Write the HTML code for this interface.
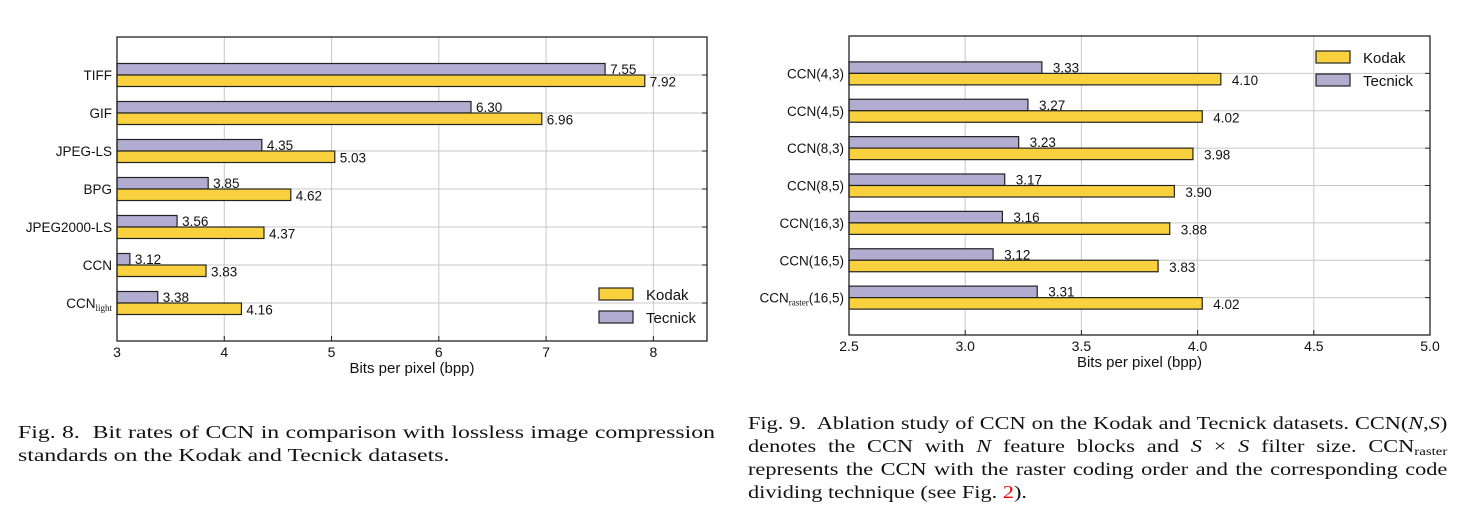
<!DOCTYPE html>
<html><head><meta charset="utf-8">
<style>
html,body{margin:0;padding:0;background:#fff;width:1477px;height:513px;overflow:hidden;position:relative}
svg{position:absolute;left:0;top:0}
.cap{position:absolute;font-family:"Liberation Serif",serif;font-size:18px;line-height:23px;color:#111;transform-origin:0 0}
.ln{display:block;text-align:justify;text-align-last:justify;white-space:nowrap}
.last{text-align-last:left}
sub{font-size:12px;vertical-align:-3px;line-height:0}
</style></head><body>
<svg id="chart" width="1477" height="513" xmlns="http://www.w3.org/2000/svg"></svg>
<div class="cap" style="left:18px;top:421px;width:528px;transform:scaleX(1.32)">
<span class="ln">Fig. 8.&nbsp; Bit rates of CCN in comparison with lossless image compression</span>
<span class="ln last">standards on the Kodak and Tecnick datasets.</span>
</div>
<div class="cap" style="left:748px;top:412px;width:564px;transform:scaleX(1.24)">
<span class="ln">Fig. 9.&nbsp; Ablation study of CCN on the Kodak and Tecnick datasets. CCN(<i>N</i>,<i>S</i>)</span>
<span class="ln">denotes the CCN with <i>N</i> feature blocks and <i>S</i> × <i>S</i> filter size. CCN<sub>raster</sub></span>
<span class="ln">represents the CCN with the raster coding order and the corresponding code</span>
<span class="ln last">dividing technique (see Fig. <span style="color:#e00">2</span>).</span>
</div>
<script>
const catsA = ["TIFF","GIF","JPEG-LS","BPG","JPEG2000-LS","CCN","CCN|light"];
const kodakA = [7.92,6.96,5.03,4.62,4.37,3.83,4.16];
const tecnickA = [7.55,6.30,4.35,3.85,3.56,3.12,3.38];
const ticksA = [3,4,5,6,7,8];
const catsB = ["CCN(4,3)","CCN(4,5)","CCN(8,3)","CCN(8,5)","CCN(16,3)","CCN(16,5)","CCN|raster|(16,5)"];
const kodakB = [4.10,4.02,3.98,3.90,3.88,3.83,4.02];
const tecnickB = [3.33,3.27,3.23,3.17,3.16,3.12,3.31];
const ticksB = [2.5,3.0,3.5,4.0,4.5,5.0];

const NS="http://www.w3.org/2000/svg";
const svg=document.getElementById('chart');
function mk(tag,attrs,parent){const e=document.createElementNS(NS,tag);for(const k in attrs)e.setAttribute(k,attrs[k]);(parent||svg).appendChild(e);return e;}
const KC="#f9d13e", TC="#b2acd0";
const FONT='"Liberation Sans",sans-serif';

function drawChart(o){
  const g=mk('g',{});
  
  
  const x=v=>o.x0+(v-o.xmin)/(o.xmax-o.xmin)*(o.x1-o.x0);
  const n=o.cats.length;
  const step=(o.y1-o.y0)/(n+1);
  const y=i=>o.y0+step*(i+1);
  o.ticks.forEach((t,i)=>{
    const l=mk('line',{x1:x(t),x2:x(t),y1:o.y0,y2:o.y1,stroke:'#c8c8c8','stroke-width':1},g);
    
    
    mk('line',{x1:x(t),x2:x(t),y1:o.y1,y2:o.y1-5,stroke:'#222','stroke-width':1},g);
    const tl=mk('text',{x:x(t),y:o.y1+16,'text-anchor':'middle','font-family':FONT,'font-size':14,fill:'#111'},g);
    tl.textContent=o.tickFmt(t);
    
    
  });
  o.cats.forEach((c,i)=>{
    const l=mk('line',{x1:o.x0,x2:o.x1,y1:y(i),y2:y(i),stroke:'#c8c8c8','stroke-width':1},g);
    
    
    mk('line',{x1:o.x0,x2:o.x0+5,y1:y(i),y2:y(i),stroke:'#222'},g);
    mk('line',{x1:o.x1,x2:o.x1-5,y1:y(i),y2:y(i),stroke:'#222'},g);
  });
  const bh=11.5;
  o.cats.forEach((c,i)=>{
    const yc=y(i);
    const tb=mk('rect',{x:o.x0,y:yc-bh,width:x(o.tec[i])-o.x0,height:bh,fill:TC,stroke:'#222','stroke-width':1.2},g);
    
    
    const kb=mk('rect',{x:o.x0,y:yc,width:x(o.kod[i])-o.x0,height:bh,fill:KC,stroke:'#222','stroke-width':1.2},g);
    
    
    const t1=mk('text',{x:x(o.tec[i])+o.lblOff,y:yc-1,'font-family':FONT,'font-size':13.5,fill:'#111'},g);
    t1.textContent=o.tec[i].toFixed(2);
    
    
    const t2=mk('text',{x:x(o.kod[i])+o.lblOff,y:yc+bh,'font-family':FONT,'font-size':13.5,fill:'#111'},g);
    t2.textContent=o.kod[i].toFixed(2);
    
    
    const parts=c.split('|');
    const cl=mk('text',{x:o.x0-5,y:yc+5,'text-anchor':'end','font-family':FONT,'font-size':13.5,fill:'#111'},g);
    
    
    const s1=mk('tspan',{},cl);s1.textContent=parts[0];
    if(parts.length>1){
      const s2=mk('tspan',{'font-family':'"Liberation Serif",serif','font-size':9,dy:3},cl);s2.textContent=parts[1];
      if(parts[2]){const s3=mk('tspan',{dy:-3},cl);s3.textContent=parts[2];}
    }
  });
  const fr=mk('rect',{x:o.x0,y:o.y0,width:o.x1-o.x0,height:o.y1-o.y0,fill:'none',stroke:'#222','stroke-width':1.3},g);
  
  
  const xt=mk('text',{x:(o.x0+o.x1)/2,y:o.y1+32,'text-anchor':'middle','font-family':FONT,'font-size':15,fill:'#111'},g);
  xt.textContent='Bits per pixel (bpp)';
  
  
  [['Kodak',KC],['Tecnick',TC]].forEach((e,i)=>{
    const ly=o.legY+i*23;
    const r=mk('rect',{x:o.legX,y:ly,width:34,height:12,fill:e[1],stroke:'#222','stroke-width':1.2},g);
    
    
    const t=mk('text',{x:o.legX+47,y:ly+12,'font-family':FONT,'font-size':15,fill:'#111'},g);
    t.textContent=e[0];
    
    
  });
}
drawChart({name:'fig8-chart',cats:catsA,kod:kodakA,tec:tecnickA,ticks:ticksA,xmin:3,xmax:8.5,x0:117,x1:707,y0:37,y1:341,lblOff:5,tickFmt:t=>String(t),legX:599,legY:288});
drawChart({name:'fig9-chart',cats:catsB,kod:kodakB,tec:tecnickB,ticks:ticksB,xmin:2.5,xmax:5.0,x0:849,x1:1430,y0:36,y1:335,lblOff:11,tickFmt:t=>t.toFixed(1),legX:1316,legY:51});
</script>
</body></html>
